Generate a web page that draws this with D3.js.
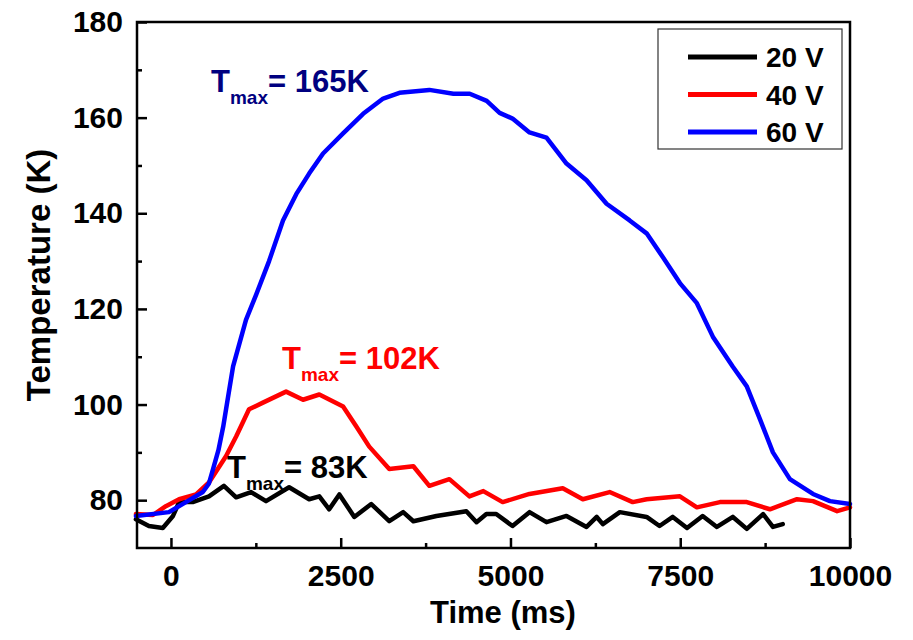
<!DOCTYPE html>
<html>
<head>
<meta charset="utf-8">
<script src="https://cdn.jsdelivr.net/npm/d3@7"></script>
<style>
  body { margin: 0; background: #fff; }
  svg { display: block; font-family: 'Liberation Sans', Arial, sans-serif; font-weight: bold; }
</style>
</head>
<body>
<div id="chart-container"></div>
<script>
/* global d3 */

// 20 V
const time20 = [-516, -325, -120, 30, 120, 320, 560, 780, 960, 1180, 1400, 1740, 2035, 2185, 2330, 2480, 2700, 2950, 3215, 3420, 3570, 3910, 4350, 4500, 4645, 4790, 5030, 5280, 5530, 5825, 6120, 6270, 6360, 6610, 7005, 7195, 7390, 7600, 7830, 8040, 8275, 8480, 8720, 8865, 9010]
const temp20 = [76, 74.6, 74.2, 76.7, 79.6, 79.6, 80.8, 83, 80.6, 81.7, 79.8, 82.7, 80.2, 80.8, 78.1, 81.2, 76.5, 79.2, 75.6, 77.5, 75.6, 76.7, 77.7, 75.4, 77.1, 77.1, 74.6, 77.5, 75.4, 76.7, 74.4, 76.5, 75, 77.5, 76.5, 74.6, 76.5, 74.2, 76.7, 74.4, 76.5, 74, 77.1, 74.4, 75]

// 40 V
const time40 = [-516, -265, -75, 120, 370, 560, 810, 960, 1150, 1355, 1695, 1945, 2185, 2535, 2730, 2920, 3215, 3570, 3805, 4100, 4395, 4600, 4885, 5280, 5770, 6065, 6460, 6800, 7005, 7495, 7745, 8085, 8480, 8820, 9220, 9455, 9810, 10000]
const temp40 = [77.1, 76.9, 78.75, 80.2, 81.2, 83.7, 89.2, 93.3, 99, 100.4, 102.7, 101, 102.1, 99.6, 95.4, 91.2, 86.5, 87.1, 83, 84.4, 80.8, 81.9, 79.6, 81.3, 82.5, 80.2, 81.7, 79.6, 80.2, 80.8, 78.5, 79.6, 79.6, 78.1, 80.2, 79.8, 77.7, 78.5]

// 60 V
const time60 = [-516, -30, 220, 470, 560, 620, 700, 770, 840, 915, 1105, 1255, 1445, 1650, 1845, 2035, 2240, 2535, 2830, 3125, 3365, 3805, 4160, 4400, 4650, 4840, 5030, 5280, 5530, 5825, 6120, 6415, 6755, 7005, 7245, 7495, 7745, 7980, 8275, 8480, 8675, 8865, 9115, 9455, 9705, 10000]
const temp60 = [76.7, 77.5, 79.6, 81.7, 83.5, 86.5, 90.5, 95.4, 101.5, 108, 117.7, 123, 130, 138.5, 144, 148.3, 152.5, 156.7, 160.8, 164, 165.2, 165.8, 165, 165, 163.5, 161, 159.8, 156.9, 155.8, 150.4, 146.9, 142, 138.5, 135.8, 130.8, 125.4, 121.2, 114.2, 107.9, 103.8, 96.9, 90, 84.4, 81.3, 79.8, 79.2]

const seriesNames = ['20 V', '40 V', '60 V']
const seriesColors = ['#000000', '#ff0000', '#0000ff']
const xTicks = [0, 2500, 5000, 7500, 10000]
const xMinorTicks = [1250, 3750, 6250, 8750]
const yTicks = [80, 100, 120, 140, 160, 180]
const yMinorTicks = [90, 110, 130, 150, 170]
const peakLabels = ['= 165K', '= 102K', '= 83K']

const width = 913
const height = 640
const marginLeft = 137
const marginRight = 63
const marginTop = 22
const marginBottom = 92

const svg = d3
  .select('#chart-container')
  .append('svg')
  .attr('width', width)
  .attr('height', height)

const x = d3
  .scaleLinear()
  .domain([-500, 10000])
  .range([marginLeft, width - marginRight])

const y = d3
  .scaleLinear()
  .domain([70, 180])
  .range([height - marginBottom, marginTop])

const series = [
  { name: seriesNames[0], color: seriesColors[0], values: time20.map((t, i) => [t, temp20[i]]) },
  { name: seriesNames[1], color: seriesColors[1], values: time40.map((t, i) => [t, temp40[i]]) },
  { name: seriesNames[2], color: seriesColors[2], values: time60.map((t, i) => [t, temp60[i]]) },
]

const line = d3
  .line()
  .x(d => x(d[0]))
  .y(d => y(d[1]))

// data lines
svg
  .append('g')
  .selectAll('path')
  .data(series)
  .join('path')
  .attr('d', d => line(d.values))
  .attr('fill', 'none')
  .attr('stroke', d => d.color)
  .attr('stroke-width', 4.5)
  .attr('stroke-linejoin', 'round')
  .attr('stroke-linecap', 'round')

// x-axis
svg
  .append('g')
  .attr('transform', `translate(0, ${y.range()[0]})`)
  .call(
    d3
      .axisBottom(x)
      .tickValues(xTicks)
      .tickFormat(d3.format('d'))
      .tickSize(-10)
      .tickPadding(17),
  )
  .call(g => g.select('.domain').remove())
  .call(g => g.selectAll('line').attr('stroke-width', 2.5))
  .call(g =>
    g.selectAll('text').attr('font-size', 30).attr('font-weight', 'bold').attr('fill', '#000'),
  )

svg
  .append('g')
  .attr('transform', `translate(0, ${y.range()[0]})`)
  .call(d3.axisBottom(x).tickValues(xMinorTicks).tickSize(-5).tickFormat(''))
  .call(g => g.select('.domain').remove())
  .call(g => g.selectAll('line').attr('stroke-width', 2.5))

// y-axis
svg
  .append('g')
  .attr('transform', `translate(${x.range()[0]}, 0)`)
  .call(d3.axisLeft(y).tickValues(yTicks).tickSize(-10).tickPadding(14))
  .call(g => g.select('.domain').remove())
  .call(g => g.selectAll('line').attr('stroke-width', 2.5))
  .call(g =>
    g.selectAll('text').attr('font-size', 30).attr('font-weight', 'bold').attr('fill', '#000'),
  )

svg
  .append('g')
  .attr('transform', `translate(${x.range()[0]}, 0)`)
  .call(d3.axisLeft(y).tickValues(yMinorTicks).tickSize(-5).tickFormat(''))
  .call(g => g.select('.domain').remove())
  .call(g => g.selectAll('line').attr('stroke-width', 2.5))

// frame
svg
  .append('rect')
  .attr('x', x.range()[0])
  .attr('y', y.range()[1])
  .attr('width', x.range()[1] - x.range()[0])
  .attr('height', y.range()[0] - y.range()[1])
  .attr('fill', 'none')
  .attr('stroke', '#000')
  .attr('stroke-width', 2.5)

// axis titles
svg
  .append('text')
  .attr('x', 503)
  .attr('y', 623)
  .attr('text-anchor', 'middle')
  .attr('font-size', 31)
  .text('Time (ms)')

svg
  .append('text')
  .attr('transform', `translate(50, 275) rotate(-90)`)
  .attr('text-anchor', 'middle')
  .attr('font-size', 33)
  .text('Temperature (K)')

// T_max annotations
const annotations = [
  { x: x.invert(211), y: y.invert(92), color: '#000080', label: peakLabels[0] },
  { x: x.invert(282), y: y.invert(369), color: '#ff0000', label: peakLabels[1] },
  { x: x.invert(227), y: y.invert(478), color: '#000000', label: peakLabels[2] },
]

const ann = svg
  .append('g')
  .selectAll('text')
  .data(annotations)
  .join('text')
  .attr('x', d => x(d.x))
  .attr('y', d => y(d.y))
  .attr('fill', d => d.color)
  .attr('font-size', 31)

ann.append('tspan').text('T')
ann
  .append('tspan')
  .attr('font-size', 19)
  .attr('dy', 12)
  .text('max')
ann
  .append('tspan')
  .attr('dy', -12)
  .text(d => d.label)

// legend
const legend = svg
  .append('g')
  .attr('transform', 'translate(658, 29)')

legend
  .append('rect')
  .attr('width', 184)
  .attr('height', 120)
  .attr('fill', '#fff')
  .attr('stroke', '#333')
  .attr('stroke-width', 1.2)

const legendItems = legend
  .selectAll('g')
  .data(series)
  .join('g')
  .attr('transform', (d, i) => `translate(0, ${28 + i * 37.5})`)

legendItems
  .append('line')
  .attr('x1', 30)
  .attr('x2', 99)
  .attr('stroke', d => d.color)
  .attr('stroke-width', 5)

legendItems
  .append('text')
  .attr('x', 108)
  .attr('y', 10)
  .attr('font-size', 28)
  .text(d => d.name)
</script>
</body>
</html>
